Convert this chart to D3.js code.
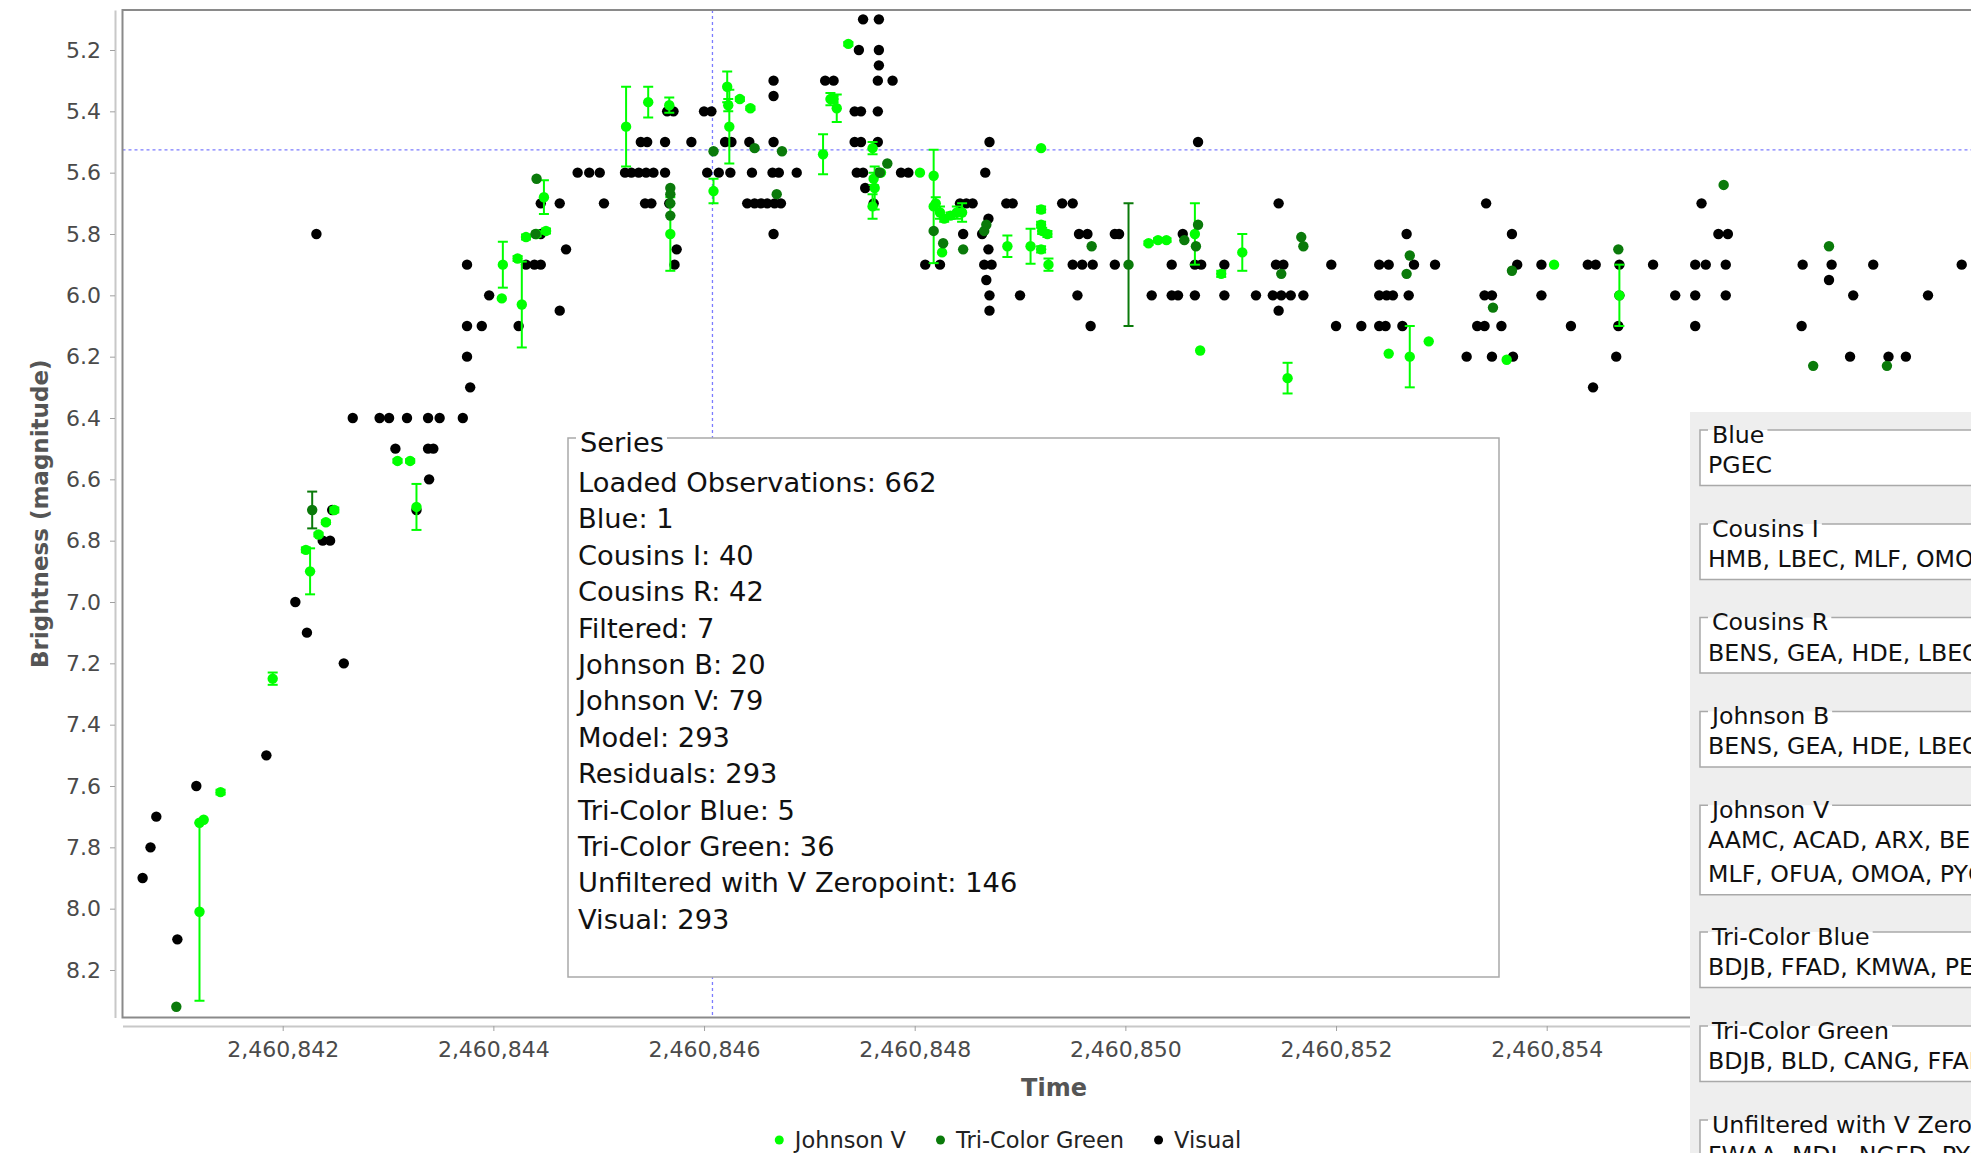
<!DOCTYPE html>
<html>
<head>
<meta charset="utf-8">
<script src="https://cdn.jsdelivr.net/npm/d3@7"></script>
<style>
  html, body { margin: 0; padding: 0; background: #fff; overflow: hidden; }
  svg { display: block; font-family: "DejaVu Sans", sans-serif; }
</style>
</head>
<body>
<svg id="chart" width="1971" height="1153"></svg>
<script>
// Julian dates are stored relative to this base day
const JD0 = 2460000;

// Visual estimates: [JD - JD0, magnitude]
const visual = [
  [840.67,7.9],[840.745,7.8],[840.80,7.7],[841.00,8.1],[841.18,7.6],[841.845,7.5],
  [842.12,7.0],[842.23,7.1],[842.32,5.8],[842.38,6.8],[842.45,6.8],[842.47,6.7],[842.58,7.2],
  [842.665,6.4],[842.92,6.4],[843.01,6.4],[843.07,6.5],[843.18,6.4],[843.27,6.7],[843.38,6.4],
  [843.49,6.4],[843.38,6.5],[843.43,6.5],[843.39,6.6],[843.71,6.4],
  [843.75,5.9],[843.75,6.1],[843.89,6.1],[843.75,6.2],[843.78,6.3],[843.96,6.0],[844.24,6.1],
  [844.31,5.9],[844.39,5.9],[844.45,5.9],[844.45,5.7],[844.45,5.8],[844.63,5.7],[844.69,5.85],[844.63,6.05],
  [844.80,5.6],[844.91,5.6],[845.01,5.6],[845.05,5.7],
  [845.25,5.6],[845.31,5.6],[845.38,5.6],[845.45,5.6],[845.52,5.6],[845.63,5.6],[846.03,5.6],[846.14,5.6],
  [846.25,5.6],[846.455,5.6],[846.65,5.6],[846.71,5.6],[846.88,5.6],[847.45,5.6],[847.51,5.6],[847.66,5.6],
  [847.87,5.6],[847.94,5.6],
  [845.40,5.5],[845.46,5.5],[845.63,5.5],[845.88,5.5],[846.20,5.5],[846.26,5.5],[846.43,5.5],[846.66,5.5],
  [847.43,5.5],[847.49,5.5],[847.65,5.5],
  [845.65,5.4],[845.71,5.4],[846.00,5.4],[846.07,5.4],[847.43,5.4],[847.49,5.4],[847.65,5.4],
  [846.66,5.35],[846.66,5.3],[847.15,5.3],[847.23,5.3],[847.65,5.3],[847.79,5.3],[847.66,5.25],
  [847.47,5.2],[847.66,5.2],[847.51,5.1],[847.66,5.1],
  [845.44,5.7],[845.50,5.7],[845.67,5.7],[846.41,5.7],[846.48,5.7],[846.54,5.7],[846.60,5.7],[846.67,5.7],
  [846.73,5.7],[847.61,5.7],[846.66,5.8],[847.53,5.65],[845.74,5.85],[845.72,5.9],
  [848.71,5.5],[850.69,5.5],[848.67,5.6],
  [848.43,5.7],[848.49,5.7],[848.55,5.7],[848.87,5.7],[848.93,5.7],[849.40,5.7],[849.50,5.7],[851.455,5.7],
  [853.425,5.7],[855.47,5.7],
  [848.70,5.75],[848.70,5.85],[848.68,5.95],[856.68,5.95],
  [848.46,5.8],[848.64,5.8],[849.56,5.8],[849.64,5.8],[849.90,5.8],[849.94,5.8],[850.545,5.8],[852.67,5.8],
  [853.67,5.8],[855.63,5.8],[855.72,5.8],
  [848.10,5.9],[848.24,5.9],[848.66,5.9],[848.73,5.9],[849.50,5.9],[849.59,5.9],[849.69,5.9],[849.90,5.9],
  [850.44,5.9],[850.66,5.9],[850.72,5.9],[850.94,5.9],[851.43,5.9],[851.50,5.9],[851.955,5.9],[852.41,5.9],
  [852.50,5.9],[852.74,5.9],[852.94,5.9],[853.72,5.9],[853.95,5.9],[854.39,5.9],[854.465,5.9],[854.69,5.9],
  [855.01,5.9],[855.41,5.9],[855.51,5.9],[855.70,5.9],[856.43,5.9],[856.705,5.9],[857.10,5.9],[857.94,5.9],
  [848.71,6.0],[849.00,6.0],[849.545,6.0],[850.25,6.0],[850.44,6.0],[850.50,6.0],[850.66,6.0],[850.94,6.0],
  [851.24,6.0],[851.40,6.0],[851.48,6.0],[851.57,6.0],[851.69,6.0],[852.41,6.0],[852.48,6.0],[852.54,6.0],
  [852.69,6.0],[853.41,6.0],[853.48,6.0],[853.95,6.0],[854.69,6.0],[855.22,6.0],[855.41,6.0],[855.70,6.0],
  [856.91,6.0],[857.62,6.0],
  [848.71,6.05],[851.455,6.05],
  [849.67,6.1],[852.00,6.1],[852.24,6.1],[852.41,6.1],[852.47,6.1],[852.63,6.1],[853.34,6.1],[853.41,6.1],
  [853.57,6.1],[854.23,6.1],[854.68,6.1],[855.41,6.1],[856.42,6.1],
  [853.24,6.2],[853.48,6.2],[853.68,6.2],[854.66,6.2],[856.88,6.2],[857.245,6.2],[857.41,6.2],
  [854.44,6.3]
];

// Johnson V photometry: [JD - JD0, magnitude, uncertainty]
const johnsonV = [
  [841.21,8.01,0.29],[841.21,7.72,0],[841.25,7.71,0],[841.41,7.62,0.008],[841.905,7.25,0.02],
  [842.22,6.83,0.008],[842.26,6.90,0.075],[842.34,6.78,0.006],[842.41,6.74,0.006],[842.49,6.70,0.008],
  [843.09,6.54,0.006],[843.21,6.54,0.006],[843.27,6.69,0.075],
  [844.08,6.01,0],[844.09,5.90,0.075],[844.23,5.88,0.008],[844.27,6.03,0.14],[844.31,5.81,0.008],
  [844.41,5.80,0.008],[844.50,5.79,0.008],[844.48,5.68,0.055],
  [845.26,5.45,0.13],[845.47,5.37,0.05],[845.67,5.38,0.025],[845.68,5.80,0.12],
  [846.09,5.66,0.04],[846.22,5.32,0.05],[846.23,5.38,0.02],[846.24,5.45,0.12],[846.34,5.36,0.006],[846.44,5.39,0.006],
  [847.13,5.54,0.065],[847.20,5.36,0.02],[847.23,5.36,0.01],[847.26,5.39,0.045],[847.37,5.18,0.006],
  [847.60,5.52,0.02],[847.61,5.62,0.02],[847.62,5.65,0.07],[847.60,5.71,0.04],[847.68,5.60,0],
  [848.05,5.60,0],[848.18,5.61,0],[848.18,5.71,0.185],[848.20,5.70,0.02],[848.24,5.73,0.02],
  [848.28,5.75,0.01],[848.34,5.74,0.01],[848.40,5.73,0.02],[848.45,5.73,0.03],[848.26,5.86,0],
  [848.88,5.84,0.035],[849.10,5.84,0.057],[849.20,5.52,0],[849.20,5.72,0.01],[849.20,5.77,0.01],
  [849.21,5.79,0.01],[849.26,5.80,0.01],[849.20,5.85,0.01],[849.27,5.90,0.02],
  [850.22,5.83,0.006],[850.31,5.82,0.006],[850.39,5.82,0.006],[850.66,5.80,0.1],[850.71,6.18,0],
  [850.91,5.93,0.01],[851.11,5.86,0.06],[851.54,6.27,0.05],
  [852.50,6.19,0],[852.70,6.20,0.1],[852.88,6.15,0],[853.62,6.21,0],[854.07,5.90,0],[854.69,6.00,0.1]
];

// Tri-Color Green photometry: [JD - JD0, magnitude, uncertainty]
const triColorGreen = [
  [840.99,8.32,0],[842.28,6.70,0.06],[844.40,5.80,0],[844.41,5.62,0],
  [845.68,5.65,0],[845.68,5.67,0],[845.68,5.70,0],[845.68,5.74,0],
  [846.09,5.53,0],[846.48,5.52,0],[846.74,5.53,0],[846.69,5.67,0],[847.67,5.60,0],[847.74,5.57,0],
  [848.18,5.79,0],[848.27,5.83,0],[848.46,5.85,0],[848.66,5.79,0],[848.68,5.77,0],
  [849.68,5.84,0],[850.03,5.90,0.2],[850.56,5.82,0],[850.69,5.77,0],[850.67,5.84,0],
  [851.48,5.93,0],[851.67,5.81,0],[851.69,5.84,0],[852.67,5.93,0],[852.70,5.87,0],
  [853.49,6.04,0],[853.67,5.92,0],[854.68,5.85,0],[855.68,5.64,0],
  [856.53,6.23,0],[856.68,5.84,0],[857.23,6.23,0]
];

// Axis ticks
const xTicks = [2460842, 2460844, 2460846, 2460848, 2460850, 2460852, 2460854];
const yTicks = [5.2, 5.4, 5.6, 5.8, 6.0, 6.2, 6.4, 6.6, 6.8, 7.0, 7.2, 7.4, 7.6, 7.8, 8.0, 8.2];

// Crosshair position (time, magnitude)
const crosshair = [2460846.08, 5.526];

// Series summary box
const seriesNames  = ["Loaded Observations", "Blue", "Cousins I", "Cousins R", "Filtered", "Johnson B",
                      "Johnson V", "Model", "Residuals", "Tri-Color Blue", "Tri-Color Green",
                      "Unfiltered with V Zeropoint", "Visual"];
const seriesCounts = [662, 1, 40, 42, 7, 20, 79, 293, 293, 5, 36, 146, 293];

// Observer codes per band
const bandNames = ["Blue", "Cousins I", "Cousins R", "Johnson B", "Johnson V",
                   "Tri-Color Blue", "Tri-Color Green", "Unfiltered with V Zeropoint"];
const bandObservers = [
  ["PGEC"],
  ["HMB, LBEC, MLF, OMOA"],
  ["BENS, GEA, HDE, LBEC, MLF"],
  ["BENS, GEA, HDE, LBEC, MLF"],
  ["AAMC, ACAD, ARX, BENS, GEA, HDE,", "MLF, OFUA, OMOA, PYG"],
  ["BDJB, FFAD, KMWA, PEX"],
  ["BDJB, BLD, CANG, FFAD"],
  ["FWAA, MDL, NGFD, PYG"]
];

// Legend entries
const legendNames  = ["Johnson V", "Tri-Color Green", "Visual"];
const legendColors = ["#00ff00", "#0a7a0a", "#000000"];

// ---------------------------------------------------------------
const svg = d3.select("#chart");
const W = 1971, H = 1153;
const frame = { left: 122.5, top: 10, right: 1995, bottom: 1017.5 };

svg.append("rect").attr("width", W).attr("height", H).attr("fill", "#fff");

const x = d3.scaleLinear().domain([2460842, 2460854]).range([282.7, 1546.7]);
x.domain([x.invert(frame.left), x.invert(frame.right)]).range([frame.left, frame.right]);
const y = d3.scaleLinear().domain([5.2, 8.2]).range([50, 970]);
y.domain([y.invert(frame.top), y.invert(frame.bottom)]).range([frame.top, frame.bottom]);

const axisColor = "#c8c8c8", textColor = "#4a4a4a";

// Y axis (offset from the frame)
const gy = svg.append("g").attr("transform", "translate(115,0)")
  .call(d3.axisLeft(y).tickValues(yTicks).tickFormat(d3.format(".1f"))
        .tickSize(5).tickPadding(9).tickSizeOuter(0));
// X axis
const gx = svg.append("g").attr("transform", "translate(0,1026)")
  .call(d3.axisBottom(x).tickValues(xTicks).tickFormat(d3.format(","))
        .tickSize(5).tickPadding(10).tickSizeOuter(0));
[gx, gy].forEach(g => {
  g.attr("font-family", null).attr("font-size", null);
  g.select(".domain").attr("stroke", axisColor).attr("stroke-width", 2);
  g.selectAll(".tick line").attr("stroke", "#a0a0a0").attr("stroke-width", 1);
  g.selectAll(".tick text").attr("fill", textColor).attr("font-size", 22)
    .attr("font-family", "'DejaVu Sans', sans-serif");
});

// Axis titles
svg.append("text")
  .attr("transform", `translate(40,${(frame.top + frame.bottom) / 2}) rotate(-90)`)
  .attr("text-anchor", "middle").attr("dominant-baseline", "central")
  .attr("font-weight", "bold").attr("font-size", 23).attr("fill", "#555")
  .text("Brightness (magnitude)");
svg.append("text")
  .attr("x", 1054).attr("y", 1096).attr("text-anchor", "middle")
  .attr("font-weight", "bold").attr("font-size", 24).attr("fill", "#555")
  .text("Time");

// Plot area
svg.append("clipPath").attr("id", "plotClip").append("rect")
  .attr("x", frame.left).attr("y", frame.top)
  .attr("width", frame.right - frame.left).attr("height", frame.bottom - frame.top);
const plot = svg.append("g").attr("clip-path", "url(#plotClip)");

// Crosshair
plot.append("line")
  .attr("x1", frame.left).attr("x2", frame.right)
  .attr("y1", y(crosshair[1])).attr("y2", y(crosshair[1]))
  .attr("stroke", "#7c7cff").attr("stroke-width", 1.3).attr("stroke-dasharray", "3,3");
plot.append("line")
  .attr("x1", x(crosshair[0])).attr("x2", x(crosshair[0]))
  .attr("y1", frame.top).attr("y2", frame.bottom)
  .attr("stroke", "#7c7cff").attr("stroke-width", 1.3).attr("stroke-dasharray", "3,3");

const R = 5.2, CAP = 5;

function drawSeries(data, color, withErrors) {
  const g = plot.append("g");
  if (withErrors) {
    const eb = g.selectAll("g.err").data(data.filter(d => d[2] > 0)).join("g")
      .attr("stroke", color).attr("stroke-width", 2);
    eb.append("line")
      .attr("x1", d => x(JD0 + d[0])).attr("x2", d => x(JD0 + d[0]))
      .attr("y1", d => y(d[1] - d[2])).attr("y2", d => y(d[1] + d[2]));
    eb.append("line")
      .attr("x1", d => x(JD0 + d[0]) - CAP).attr("x2", d => x(JD0 + d[0]) + CAP)
      .attr("y1", d => y(d[1] - d[2])).attr("y2", d => y(d[1] - d[2]));
    eb.append("line")
      .attr("x1", d => x(JD0 + d[0]) - CAP).attr("x2", d => x(JD0 + d[0]) + CAP)
      .attr("y1", d => y(d[1] + d[2])).attr("y2", d => y(d[1] + d[2]));
  }
  g.selectAll("circle").data(data).join("circle")
    .attr("cx", d => x(JD0 + d[0])).attr("cy", d => y(d[1]))
    .attr("r", R).attr("fill", color);
}
drawSeries(visual, legendColors[2], false);
drawSeries(johnsonV, legendColors[0], true);
drawSeries(triColorGreen, legendColors[1], true);

// Frame
svg.append("rect")
  .attr("x", frame.left).attr("y", frame.top)
  .attr("width", frame.right - frame.left).attr("height", frame.bottom - frame.top)
  .attr("fill", "none").attr("stroke", "#8a8a8a").attr("stroke-width", 2);

// Titled box helper: title sits on the top border, interrupting it
function titledBox(parent, x0, y0, w, h, title, fs, titleDy, border) {
  const g = parent.append("g");
  g.append("rect").attr("x", x0).attr("y", y0).attr("width", w).attr("height", h).attr("fill", "#fff");
  const t = g.append("text").attr("x", x0 + 12).attr("y", y0 + titleDy)
    .attr("font-size", fs).attr("fill", "#111").text(title);
  const tw = t.node().getComputedTextLength();
  g.append("path")
    .attr("d", `M${x0 + 8},${y0} H${x0} V${y0 + h} H${x0 + w} V${y0} H${x0 + 12 + tw + 3}`)
    .attr("fill", "none").attr("stroke", border).attr("stroke-width", 1.5);
  return g;
}

// Series summary box
const sb = titledBox(svg, 568, 438, 931, 539, "Series", 27.3, 14, "#a9a9a9");
sb.selectAll("text.line").data(seriesNames).join("text").attr("class", "line")
  .attr("x", 578).attr("y", (d, i) => 492 + i * 36.4)
  .attr("font-size", 27.3).attr("fill", "#111")
  .text((d, i) => `${d}: ${seriesCounts[i]}`);

// Observer panel
const panel = svg.append("g");
panel.append("rect").attr("x", 1690).attr("y", 412).attr("width", W - 1690).attr("height", H - 412)
  .attr("fill", "#eeeeee");
const boxTops = [430, 524, 617.6, 711.4, 805.2, 932, 1026, 1120];
bandNames.forEach((name, i) => {
  const lines = bandObservers[i];
  const h = i === bandNames.length - 1 ? 90 : 21.5 + lines.length * 34;
  const g = titledBox(panel, 1700, boxTops[i], 320, h, name, 23.7, 12.5, "#a9a9a9");
  lines.forEach((ln, j) => {
    g.append("text").attr("x", 1708).attr("y", boxTops[i] + 43 + j * 34)
      .attr("font-size", 23.7).attr("fill", "#111").text(ln);
  });
});

// Legend
const lg = svg.append("g");
let lx = 0;
legendNames.forEach((name, i) => {
  const it = lg.append("g");
  it.append("circle").attr("cx", lx + 4.5).attr("cy", 0).attr("r", 4.5).attr("fill", legendColors[i]);
  const t = it.append("text").attr("x", lx + 20).attr("y", 0).attr("dy", "0.35em")
    .attr("font-size", 22.5).attr("fill", "#222").text(name);
  lx += 20 + t.node().getComputedTextLength() + 30;
});
const legendW = lx - 30;
lg.attr("transform", `translate(${1008 - legendW / 2},1140)`);
</script>
</body>
</html>
